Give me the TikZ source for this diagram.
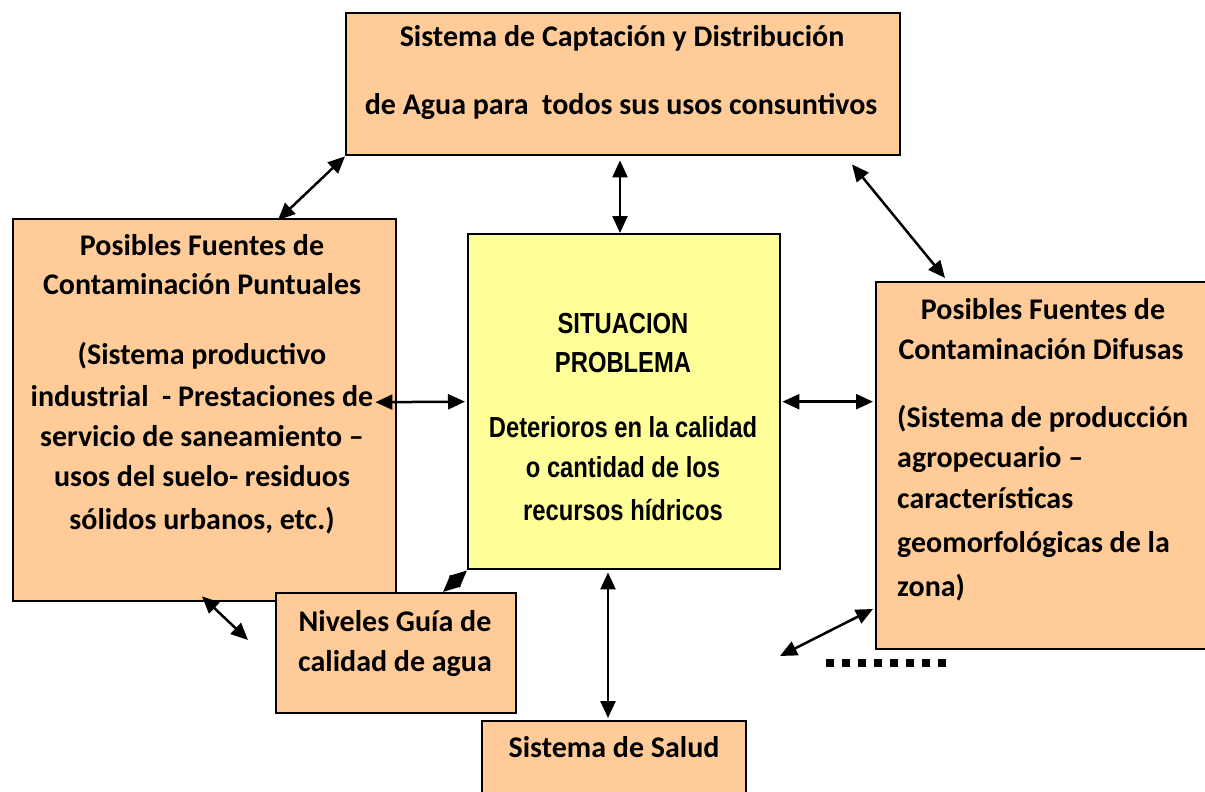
\documentclass[tikz,border=0pt]{standalone}
\usepackage{fontspec}
\setmainfont{Carlito}
\newfontfamily\narrowfont[FakeStretch=0.82]{Liberation Sans}
\usetikzlibrary{arrows.meta,calc}
\definecolor{boxorange}{HTML}{FFCC99}
\definecolor{boxyellow}{HTML}{FFFF99}
\tikzset{
  box/.style={draw=black, line width=2.4pt, fill=boxorange, anchor=north west, inner sep=0pt},
  ybox/.style={box, fill=boxyellow},
  txt/.style={anchor=base, inner sep=0pt, font=\bfseries\fontsize{30}{34}\selectfont},
  ltxt/.style={txt, anchor=base west},
  ntxt/.style={anchor=base, inner sep=0pt, font=\narrowfont\bfseries\fontsize{29}{33}\selectfont},
  biarrow/.style={{Triangle[length=17pt,width=15pt]}-{Triangle[length=17pt,width=15pt]}, line width=2.5pt},
  dots/.style={line width=8pt, dash pattern=on 8pt off 8pt}
}
\begin{document}
\begin{tikzpicture}[x=1pt,y=-1pt]
\useasboundingbox (0,0) rectangle (1205,792);
\clip (0,0) rectangle (1205,792);
% boxes
\node[box, minimum width=554pt, minimum height=142pt] (top) at (345,12) {};
\node[box, minimum width=383pt, minimum height=382pt] (left) at (12,218) {};
\node[ybox, minimum width=312pt, minimum height=335pt] (center) at (467,233) {};
\node[box, minimum width=345pt, minimum height=367pt] (right) at (875,281) {};
\node[box, minimum width=240pt, minimum height=120pt] (niv) at (275,592) {};
\node[box, minimum width=264pt, minimum height=100pt] (salud) at (481,720) {};
% top texts
\node[txt] (t1) at (622,47) {Sistema de Captación y Distribución};
\node[txt] (t2) at (621,114) {de Agua para\ \ todos sus usos consuntivos};
% left texts
\node[txt] (l1) at (202,255) {Posibles Fuentes de};
\node[txt] (l2) at (202,294) {Contaminación Puntuales};
\node[txt] (l3) at (202,364) {(Sistema productivo};
\node[txt] (l4) at (202,406) {industrial\ \ - Prestaciones de};
\node[txt] (l5) at (202,446) {servicio de saneamiento –};
\node[txt] (l6) at (202,486) {usos del suelo- residuos};
\node[txt] (l7) at (202,529) {sólidos urbanos, etc.)};
% center texts
\node[ntxt] (c1) at (623,333) {SITUACION};
\node[ntxt] (c2) at (623,372) {PROBLEMA};
\node[ntxt] (c3) at (623,437) {Deterioros en la calidad};
\node[ntxt] (c4) at (623,477) {o cantidad de los};
\node[ntxt] (c5) at (623,520) {recursos hídricos};
% right texts
\node[txt] (r1) at (1043,319) {Posibles Fuentes de};
\node[txt] (r2) at (1041,359) {Contaminación Difusas};
\node[ltxt] (r3) at (897,427) {(Sistema de producción};
\node[ltxt] (r4) at (897,467) {agropecuario –};
\node[ltxt] (r5) at (897,508) {características};
\node[ltxt] (r6) at (897,552) {geomorfológicas de la};
\node[ltxt] (r7) at (897,596) {zona)};
% niveles / salud
\node[txt] (n1) at (395,631) {Niveles Guía de};
\node[txt] (n2) at (395,671) {calidad de agua};
\node[txt] (s1) at (614,757) {Sistema de Salud};
% free ends
\coordinate (lfree) at (248,640);
\coordinate (rfree) at (780,656);
\coordinate (dotA) at (826,663);
\coordinate (dotB) at (946,663);
% connectors
\draw[biarrow] ($(left.north west)+(266,2)$) -- (top.south west);
\draw[biarrow] ($(top.south west)+(275,4)$) -- ($(center.north west)+(153,0)$);
\draw[biarrow] ($(top.south west)+(507,8)$) -- ($(right.north west)+(70,-3)$);
\draw[biarrow] ($(left.east)+(-22,-8)$) -- ($(center.west)+(-2,0)$);
\draw[biarrow] ($(center.east)+(1,0)$) -- ($(right.west)+(-2,-64)$);
\draw[biarrow] (center.south west) -- ($(niv.north west)+(168,0)$);
\draw[biarrow] ($(center.south west)+(141,2)$) -- ($(salud.north west)+(127,-2)$);
\draw[biarrow] ($(left.south west)+(190,-6)$) -- (lfree);
\draw[biarrow] ($(right.north west)+(-2,328)$) -- (rfree);
\draw[dots] (dotA) -- (dotB);
\end{tikzpicture}
\end{document}
